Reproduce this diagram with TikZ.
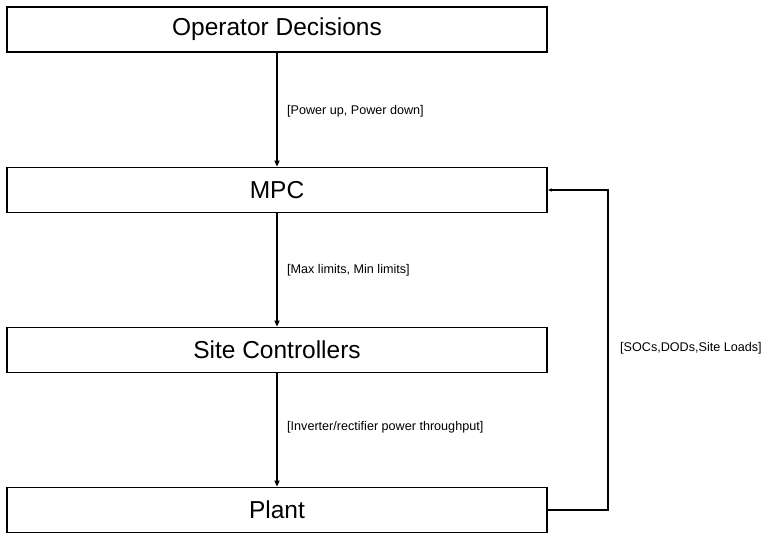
\documentclass[tikz,border=0pt]{standalone}
\usepackage{fontspec}
\setmainfont{Liberation Sans}
\usetikzlibrary{arrows.meta}
\begin{document}
\begin{tikzpicture}[x=1pt,y=-1pt,
  blk/.style={draw=black,line width=1.8pt,minimum width=540pt,minimum height=45pt,inner sep=0pt,font=\fontsize{24.5pt}{28pt}\selectfont},
  flow/.style={line width=2pt,-{Triangle[length=6pt,width=5pt]}},
  lbl/.style={anchor=west,inner sep=0pt,font=\fontsize{12.6pt}{14pt}\selectfont}]
\useasboundingbox (0,0) rectangle (768,534);
\node[blk] (op) at (277,29.5) {Operator Decisions};
\node[blk] (mpc) at (277,190) {MPC};
\node[blk] (sc) at (277,350) {Site Controllers};
\node[blk] (pl) at (277,510) {Plant};
\draw[flow] (op.south) -- (mpc.north);
\draw[flow] (mpc.south) -- (sc.north);
\draw[flow] (sc.south) -- (pl.north);
\node[lbl] (l1) at (287,111) {[Power up, Power down]};
\node[lbl] (l2) at (287,270) {[Max limits, Min limits]};
\node[lbl] (l3) at (287,427) {[Inverter/rectifier power throughput]};
\coordinate (fb) at (608,0);
\draw[line width=2pt,-{Triangle[length=4pt,width=3pt]}] (pl.east) -- (pl.east -| fb) -- (mpc.east -| fb) -- (mpc.east);
\node[lbl] (l4) at (620,348) {[SOCs,DODs,Site Loads]};
\end{tikzpicture}
\end{document}
